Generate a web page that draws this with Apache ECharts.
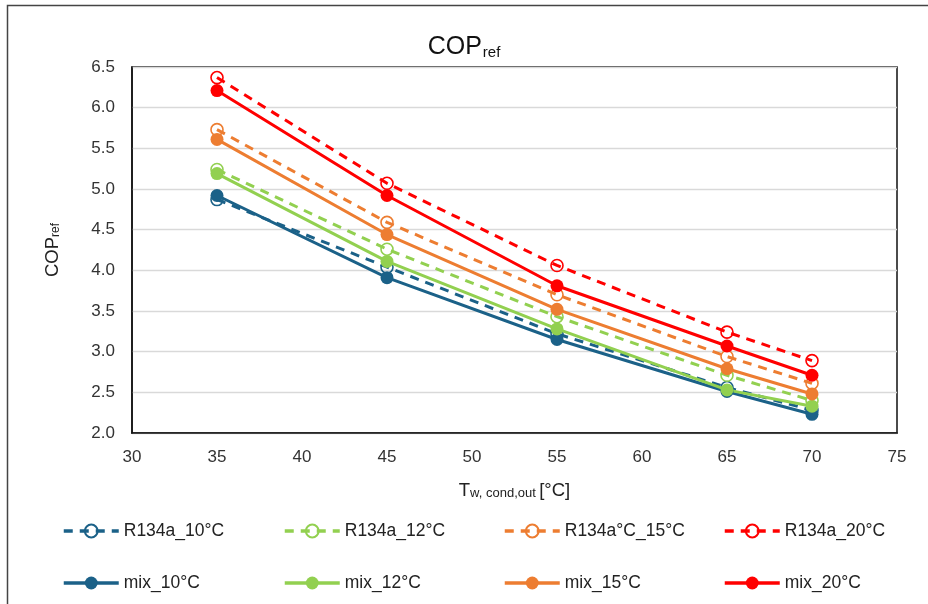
<!DOCTYPE html>
<html>
<head>
<meta charset="utf-8">
<script src="https://cdn.jsdelivr.net/npm/echarts@6/dist/echarts.min.js"></script>
<style>html,body{margin:0;padding:0;background:#fff;}#chart{width:928px;height:604px;}</style>
</head>
<body>
<div id="chart"></div>
<script>
const xValues = [35, 45, 55, 65, 70];
const seriesNames = ['R134a_10°C', 'R134a_12°C', 'R134a°C_15°C', 'R134a_20°C', 'mix_10°C', 'mix_12°C', 'mix_15°C', 'mix_20°C'];
const r134a_10 = [4.87, 4.04, 3.22, 2.56, 2.28];
const r134a_12 = [5.24, 4.26, 3.43, 2.71, 2.40];
const r134a_15 = [5.73, 4.59, 3.70, 2.94, 2.61];
const r134a_20 = [6.37, 5.07, 4.06, 3.24, 2.89];
const mix_10 = [4.92, 3.91, 3.15, 2.51, 2.23];
const mix_12 = [5.19, 4.11, 3.28, 2.53, 2.33];
const mix_15 = [5.61, 4.44, 3.52, 2.79, 2.48];
const mix_20 = [6.21, 4.92, 3.81, 3.07, 2.71];
const yTicks = {min: 2.0, max: 6.5, step: 0.5};
const xTicks = {min: 30, max: 75, step: 5};

const colors = ['#1B6188', '#92D050', '#ED7D31', '#FF0000'];
const FONT = 'Liberation Sans';
const dataSets = [r134a_10, r134a_12, r134a_15, r134a_20, mix_10, mix_12, mix_15, mix_20];

function pairs(arr) { return xValues.map((x, i) => [x, arr[i]]); }

const series = dataSets.map((arr, i) => {
  const c = colors[i % 4];
  const dashed = i < 4;
  return {
    name: seriesNames[i],
    type: 'line',
    data: pairs(arr),
    color: c,
    symbol: 'circle',
    symbolSize: dashed ? 12 : 13,
    z: dashed ? 2 : 3,
    lineStyle: dashed ? {color: c, width: 3, type: [9, 7]} : {color: c, width: 3},
    itemStyle: dashed ? {color: 'rgba(255,255,255,0)', borderColor: c, borderWidth: 1.6} : {color: c},
    emphasis: {disabled: true},
    animation: false
  };
});

const legendCols = [57, 278, 498, 718];
const legendRows = [517, 569];
const legends = seriesNames.map((n, i) => ({
  data: [n],
  left: legendCols[i % 4],
  top: legendRows[Math.floor(i / 4)],
  itemWidth: 55,
  itemHeight: 16,
  itemGap: 5,
  lineStyle: {width: 3.5},
  textStyle: {fontFamily: FONT, fontSize: 17.5, color: '#222'},
  selectedMode: false
}));

const chart = echarts.init(document.getElementById('chart'), null, {renderer: 'canvas'});
chart.setOption({
  backgroundColor: '#fff',
  animation: false,
  title: {
    text: '{m|COP}{s|ref}',
    left: 'center',
    top: 25,
    textStyle: {
      fontWeight: 'normal',
      rich: {
        m: {fontFamily: FONT, fontSize: 25, fontWeight: 'normal', color: '#111', verticalAlign: 'bottom', lineHeight: 30},
        s: {fontFamily: FONT, fontSize: 15, fontWeight: 'normal', color: '#111', verticalAlign: 'bottom', lineHeight: 22, padding: [0,0,0,1]}
      }
    }
  },
  legend: legends,
  grid: {left: 132, right: 31, top: 67, bottom: 171, show: true, borderColor: '#111', borderWidth: 1.5, backgroundColor: 'transparent'},
  xAxis: {
    type: 'value',
    min: xTicks.min, max: xTicks.max, interval: xTicks.step,
    axisLine: {show: true, lineStyle: {color: '#111', width: 1.5}},
    axisTick: {show: false},
    splitLine: {show: false},
    axisLabel: {fontFamily: FONT, fontSize: 17, color: '#333', margin: 16},
    name: '{m|T}{s|w, cond,out} {m|[°C]}',
    nameLocation: 'middle',
    nameGap: 45,
    nameTextStyle: {
      rich: {
        m: {fontFamily: FONT, fontSize: 18.5, color: '#222', verticalAlign: 'bottom', lineHeight: 22},
        s: {fontFamily: FONT, fontSize: 13, color: '#222', verticalAlign: 'bottom', lineHeight: 16}
      }
    }
  },
  yAxis: {
    type: 'value',
    min: yTicks.min, max: yTicks.max, interval: yTicks.step,
    axisLine: {show: true, lineStyle: {color: '#111', width: 1.5}},
    axisTick: {show: false},
    splitLine: {show: true, lineStyle: {color: '#d9d9d9', width: 1.3}},
    axisLabel: {fontFamily: FONT, fontSize: 17, color: '#333', margin: 17, formatter: v => v.toFixed(1)},
    name: '{m|COP}{s|ref}',
    nameLocation: 'middle',
    nameGap: 70,
    nameRotate: 90,
    nameTextStyle: {
      rich: {
        m: {fontFamily: FONT, fontSize: 18.5, color: '#222', verticalAlign: 'bottom', lineHeight: 22},
        s: {fontFamily: FONT, fontSize: 12, color: '#222', verticalAlign: 'bottom', lineHeight: 16}
      }
    }
  },
  graphic: [{
    type: 'rect',
    shape: {x: 7.5, y: 5.5, width: 940, height: 640},
    style: {fill: 'none', stroke: '#444', lineWidth: 1.5},
    silent: true, z: 100
  }],
  series: series
});
</script>
</body>
</html>
